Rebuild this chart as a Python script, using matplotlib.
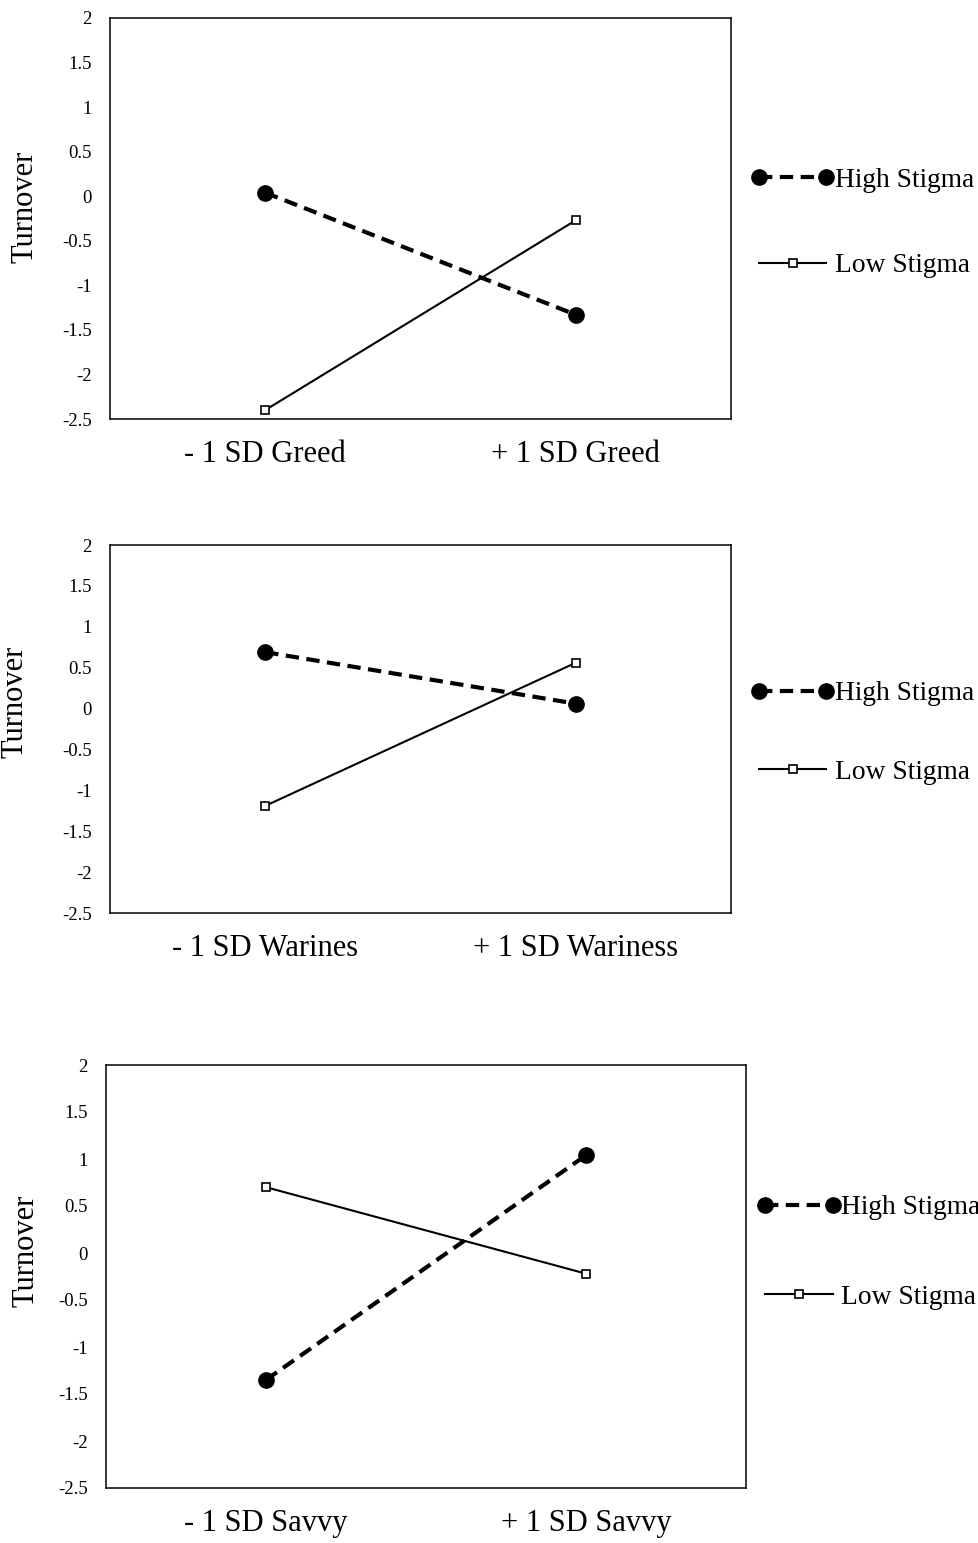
import matplotlib
matplotlib.use("Agg")
import matplotlib.pyplot as plt
from matplotlib.legend_handler import HandlerLine2D

plt.rcParams["font.family"] = ["Liberation Serif", "DejaVu Serif"]

# data
greed_labels = ["- 1 SD Greed", "+ 1 SD Greed"]
greed_high = [0.04, -1.33]
greed_low = [-2.40, -0.27]

wariness_labels = ["- 1 SD Warines", "+ 1 SD Wariness"]
wariness_high = [0.69, 0.06]
wariness_low = [-1.19, 0.56]

savvy_labels = ["- 1 SD Savvy", "+ 1 SD Savvy"]
savvy_high = [-1.35, 1.04]
savvy_low = [0.70, -0.22]

yticks = [2, 1.5, 1, 0.5, 0, -0.5, -1, -1.5, -2, -2.5]
ytick_labels = ["2", "1.5", "1", "0.5", "0", "-0.5", "-1", "-1.5", "-2", "-2.5"]

W, H = 979, 1543
fig = plt.figure(figsize=(W / 100, H / 100), dpi=100)

# (left, top, right, bottom) in pixels, ylabel (x, y) coords, legend (x, y, spacing)
panels = [
    (greed_labels, greed_high, greed_low, (110, 18, 731, 419), (-0.113, 0.53), (0.045, 0.489, 2.2)),
    (wariness_labels, wariness_high, wariness_low, (110, 545, 731, 913), (-0.129, 0.573), (0.045, 0.489, 1.95)),
    (savvy_labels, savvy_high, savvy_low, (106, 1065, 746, 1488), (-0.103, 0.56), (0.03, 0.557, 2.33)),
]

for cats, high, low, box, ylab, leg in panels:
    l, t, r, b = box
    ax = fig.add_axes([l / W, (H - b) / H, (r - l) / W, (b - t) / H])
    x = [1, 2]
    hi, = ax.plot(x, high, color="black", lw=3, dashes=(3.2, 1.8),
                  marker="o", markersize=11, label="High Stigma")
    lo, = ax.plot(x, low, color="black", lw=1.5, marker="s", markersize=5.5,
                  markerfacecolor="white", markeredgewidth=1.2, label="Low Stigma")
    ax.set_xlim(0.5, 2.5)
    ax.set_ylim(-2.5, 2)
    ax.set_xticks(x)
    ax.set_xticklabels(cats, fontsize=22)
    ax.set_yticks(yticks)
    ax.set_yticklabels(ytick_labels, fontsize=13.5)
    ax.tick_params(axis="both", length=0)
    ax.tick_params(axis="y", pad=13)
    ax.tick_params(axis="x", pad=15)
    for s in ax.spines.values():
        s.set_linewidth(1.1)
        s.set_color("black")
    ax.set_ylabel("Turnover", fontsize=22)
    ax.yaxis.set_label_coords(*ylab)
    ax.legend(handles=[hi, lo], loc="center left", bbox_to_anchor=(1 + leg[0], leg[1]),
              frameon=False, fontsize=19.8, borderaxespad=0, borderpad=0,
              handlelength=2.45, handletextpad=0.3, labelspacing=leg[2],
              handler_map={hi: HandlerLine2D(numpoints=2, marker_pad=0),
                           lo: HandlerLine2D(numpoints=1)})

fig.savefig("out.png", dpi=100)
